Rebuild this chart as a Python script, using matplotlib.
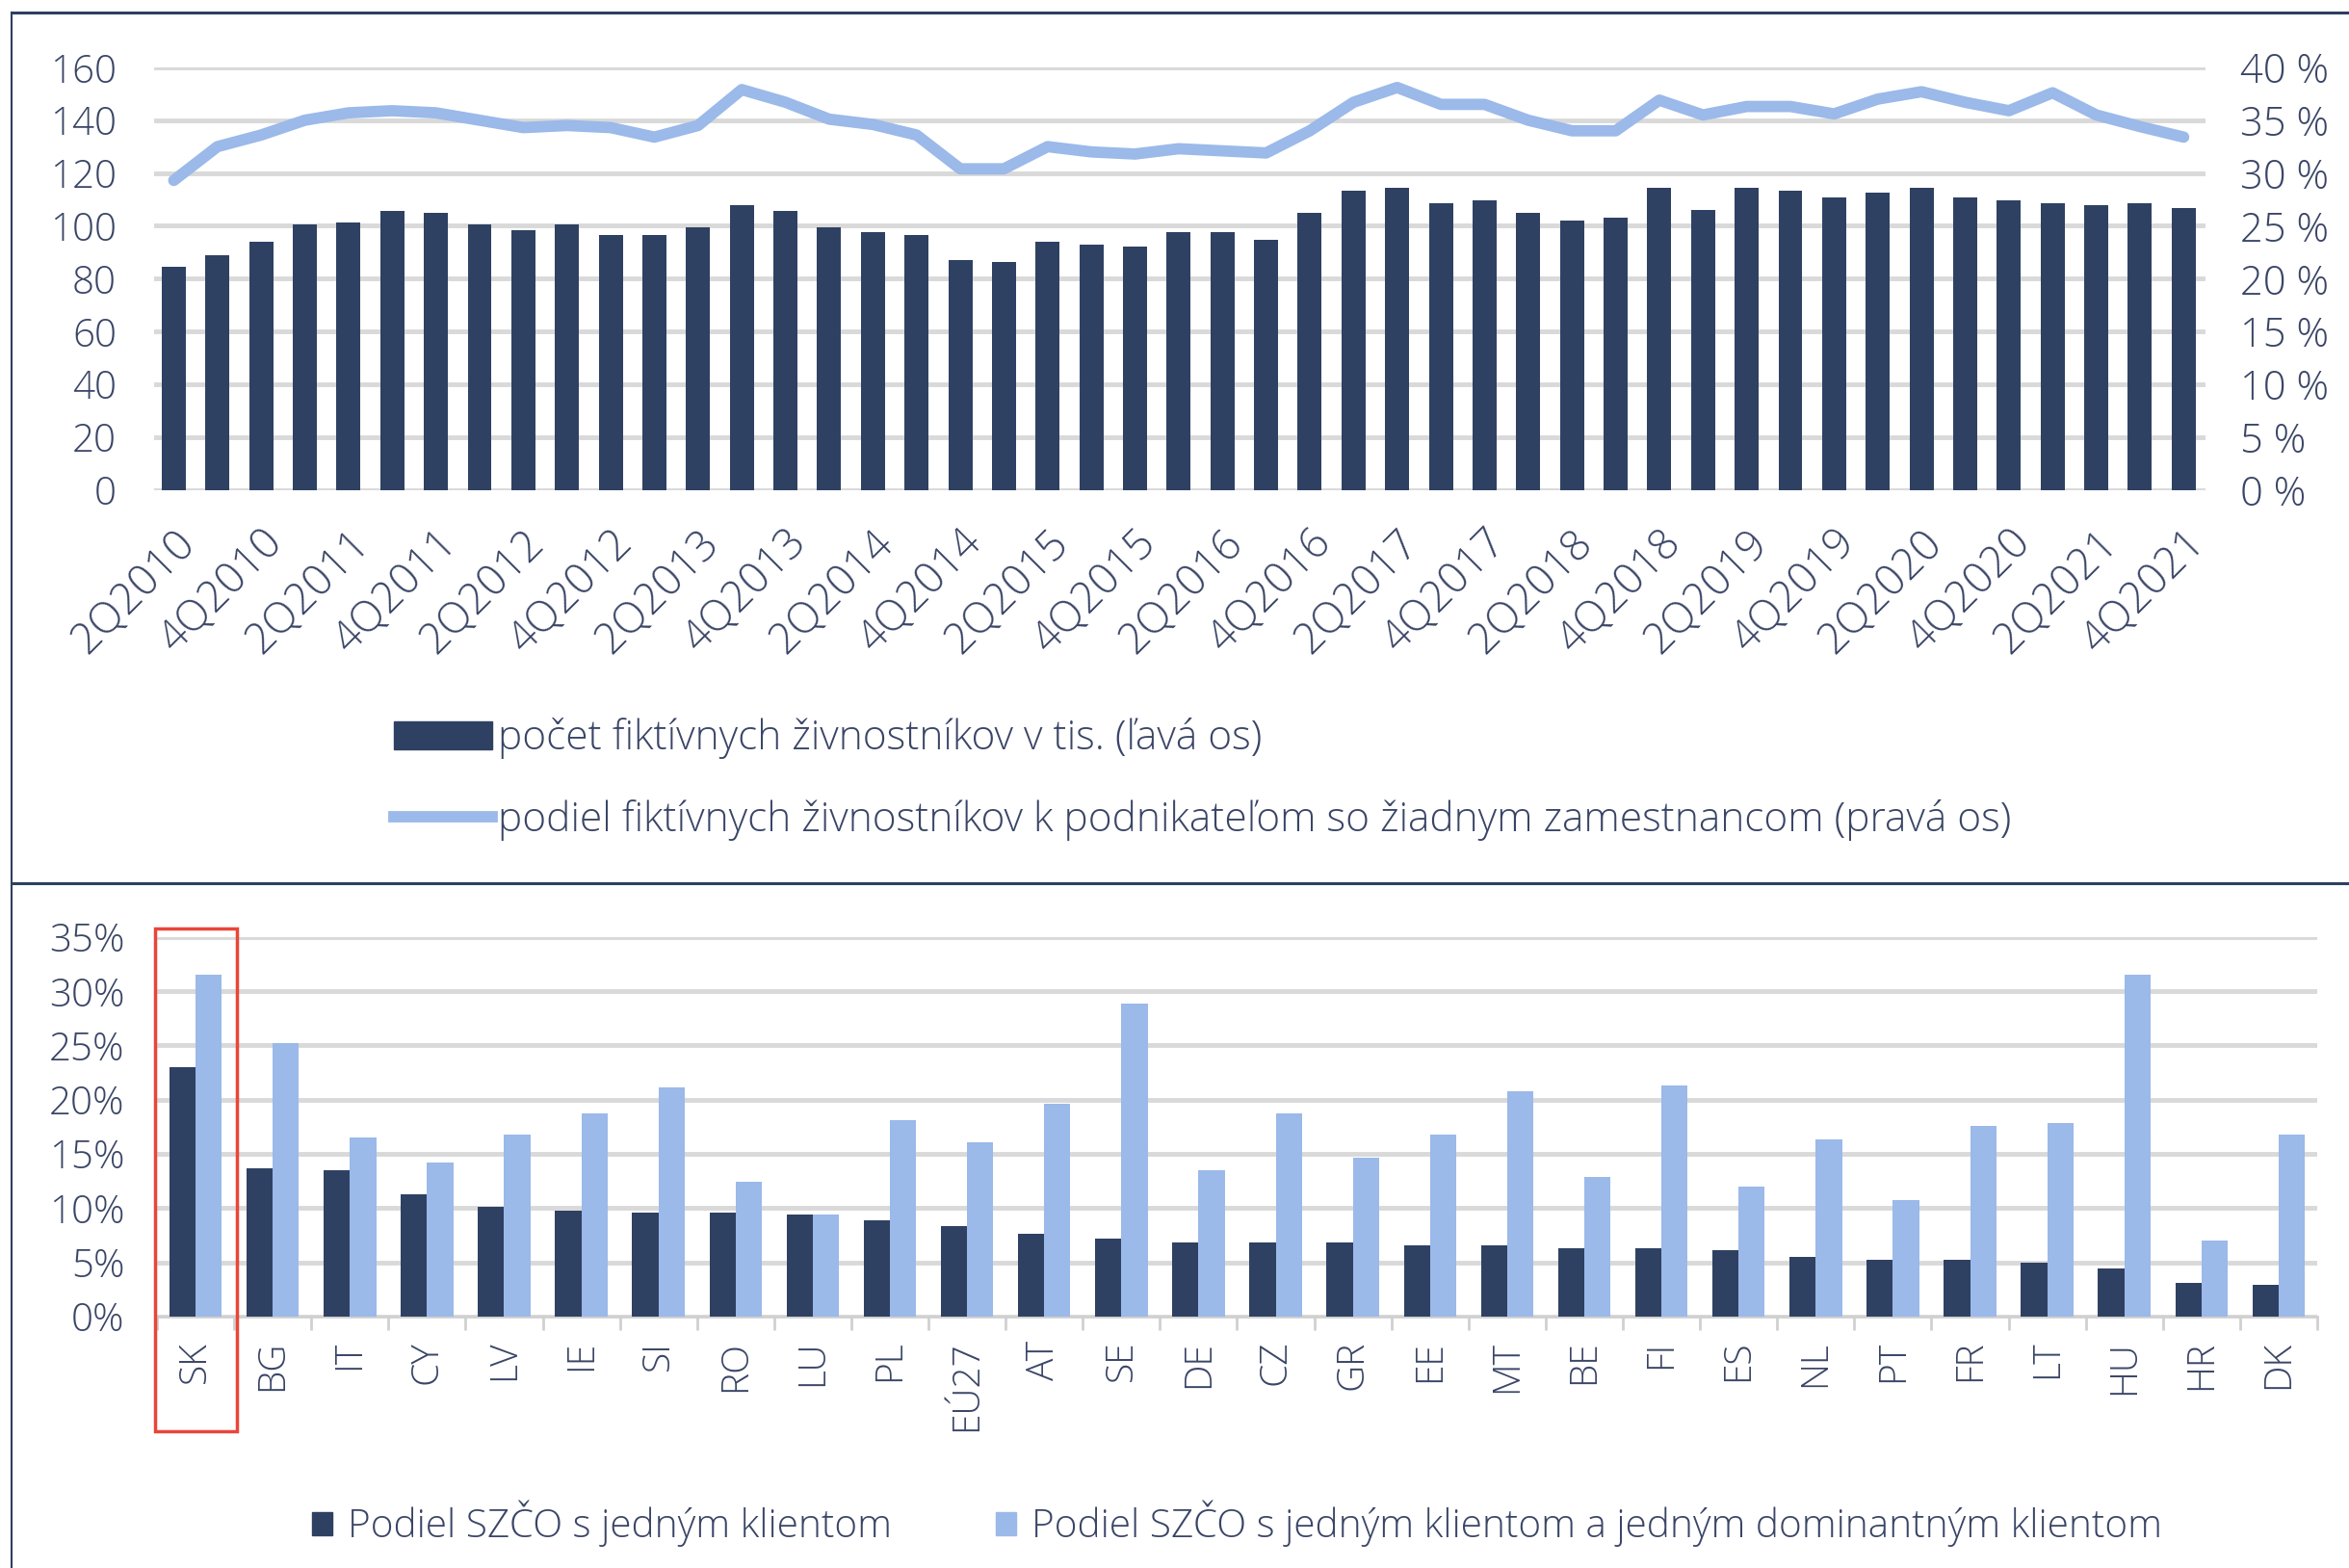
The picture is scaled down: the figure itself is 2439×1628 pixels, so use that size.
import matplotlib
matplotlib.use("Agg")
import matplotlib.pyplot as plt
from matplotlib.lines import Line2D
from matplotlib.patches import Patch, Rectangle
from matplotlib.ticker import FuncFormatter

plt.rcParams['font.family'] = ['Open Sans', 'DejaVu Sans']
plt.rcParams['font.weight'] = 'light'

# ---------------- data ----------------
quarters = []
for yr in range(2010, 2022):
    for q in range(1, 5):
        if yr == 2010 and q == 1:
            continue
        quarters.append(f"{q}Q{yr}")

fict_count = [84.4, 89.0, 93.8, 100.4, 101.2, 105.8, 105.0, 100.4, 98.4, 100.4,
              96.5, 96.5, 99.5, 107.7, 105.8, 99.5, 97.5, 96.5, 87.0, 86.3,
              93.8, 92.8, 92.0, 97.5, 97.5, 94.7, 105.0, 113.3, 114.3, 108.7,
              109.6, 105.0, 102.1, 103.0, 114.3, 105.9, 114.3, 113.3, 110.6, 112.5,
              114.3, 110.6, 109.6, 108.7, 107.8, 108.7, 106.7]
fict_share = [29.3, 32.5, 33.6, 35.0, 35.7, 35.9, 35.7, 35.0, 34.3, 34.5,
              34.3, 33.4, 34.5, 37.9, 36.7, 35.1, 34.6, 33.6, 30.4, 30.4,
              32.5, 32.0, 31.8, 32.3, 32.1, 31.9, 34.0, 36.7, 38.1, 36.5,
              36.5, 35.0, 34.0, 34.0, 36.9, 35.5, 36.3, 36.3, 35.6, 37.0,
              37.7, 36.7, 35.9, 37.6, 35.5, 34.4, 33.4]

countries = ["SK", "BG", "IT", "CY", "LV", "IE", "SI", "RO", "LU", "PL", "EÚ27", "AT", "SE",
             "DE", "CZ", "GR", "EE", "MT", "BE", "FI", "ES", "NL", "PT", "FR", "LT", "HU", "HR", "DK"]
one_client = [23.0, 13.7, 13.5, 11.3, 10.1, 9.8, 9.6, 9.6, 9.4, 8.9, 8.3, 7.6, 7.2,
              6.8, 6.8, 6.8, 6.6, 6.6, 6.3, 6.3, 6.1, 5.5, 5.2, 5.2, 5.0, 4.4, 3.1, 2.9]
one_dom_client = [31.5, 25.2, 16.5, 14.2, 16.8, 18.7, 21.1, 12.4, 9.4, 18.1, 16.1, 19.6, 28.9,
                  13.5, 18.7, 14.6, 16.8, 20.8, 12.9, 21.3, 12.0, 16.3, 10.7, 17.6, 17.8, 31.5, 7.0, 16.8]

left_ticks = [0, 20, 40, 60, 80, 100, 120, 140, 160]
right_ticks = [0, 5, 10, 15, 20, 25, 30, 35, 40]
bottom_ticks = [0, 5, 10, 15, 20, 25, 30, 35]

label_top_bar = "počet fiktívnych živnostníkov v tis. (ľavá os)"
label_top_line = "podiel fiktívnych živnostníkov k podnikateľom so žiadnym zamestnancom (pravá os)"
label_bot_1 = "Podiel SZČO s jedným klientom"
label_bot_2 = "Podiel SZČO s jedným klientom a jedným dominantným klientom"

# ---------------- style ----------------
DARK = "#2f4163"
LIGHT = "#9bb9e9"
TXT = "#3a4566"
GRID = "#d9d9d9"
FRAME = "#2e4060"
FS = 29
LW = 8.5

W, H = 2439, 1628
fig = plt.figure(figsize=(W / 100, H / 100), dpi=100)

# frame lines
fig.add_artist(Line2D([12 / W, 1], [1 - 13 / H, 1 - 13 / H], color=FRAME, lw=2.2))
fig.add_artist(Line2D([12 / W, 12 / W], [0, 1 - 13 / H], color=FRAME, lw=1.5))
fig.add_artist(Line2D([12 / W, 1], [1 - 917 / H, 1 - 917 / H], color=FRAME, lw=2.2))

# ---------------- top chart ----------------
x0, x1 = 160 / W, 2290 / W
y0, y1 = 1 - 508.6 / H, 1 - 70 / H
ax = fig.add_axes([x0, y0, x1 - x0, y1 - y0])
xs = list(range(len(quarters)))
ax.bar(xs, fict_count, width=0.55, color=DARK, zorder=3)
ax.set_xlim(-0.45, len(quarters) - 0.5)
ax.set_ylim(0, 160)
ax.set_yticks(left_ticks)
ax.yaxis.grid(True, color=GRID, lw=3.5, zorder=0)
ax.set_axisbelow(True)
for s in ax.spines.values():
    s.set_visible(False)
ax.tick_params(axis='y', length=0, labelsize=FS, labelcolor=TXT, pad=28)
ax.set_xticks(xs[::2])
ax.set_xticklabels(quarters[::2], rotation=45, ha='right', rotation_mode='anchor',
                   fontsize=32, color=TXT)
ax.tick_params(axis='x', length=0, pad=24)

ax2 = ax.twinx()
ax2.plot(xs, fict_share, color=LIGHT, lw=LW, solid_capstyle='round', solid_joinstyle='round', zorder=4)
ax2.set_ylim(0, 40)
ax2.set_yticks(right_ticks)
ax2.yaxis.set_major_formatter(FuncFormatter(lambda v, p: f"{int(v)} %"))
for s in ax2.spines.values():
    s.set_visible(False)
ax2.tick_params(axis='y', length=0, labelsize=30, labelcolor=TXT, pad=26)

top_handles = [Patch(facecolor=DARK, edgecolor=DARK),
               Line2D([0], [0], color=LIGHT, lw=LW)]
fig.legend(top_handles, [label_top_bar, label_top_line], loc='upper left',
           bbox_to_anchor=(371 / W, 1 - 707 / H), frameon=False, fontsize=30.5,
           labelcolor=TXT, handlelength=2.4, handleheight=0.68, handletextpad=0.15,
           labelspacing=0.98)

# ---------------- bottom chart ----------------
bx0, bx1 = 163 / W, 2406 / W
by0, by1 = 1 - 1366.8 / H, 1 - 972.9 / H
bx = fig.add_axes([bx0, by0, bx1 - bx0, by1 - by0])
cx = list(range(len(countries)))
bw = 0.34
bx.bar([c - bw / 2 for c in cx], one_client, width=bw, color=DARK, zorder=3)
bx.bar([c + bw / 2 for c in cx], one_dom_client, width=bw, color=LIGHT, zorder=3)
bx.set_xlim(-0.5, len(countries) - 0.5)
bx.set_ylim(0, 35)
bx.set_yticks(bottom_ticks)
bx.yaxis.set_major_formatter(FuncFormatter(lambda v, p: f"{int(v)}%"))
bx.yaxis.grid(True, color=GRID, lw=3.5, zorder=0)
bx.set_axisbelow(True)
for s in bx.spines.values():
    s.set_visible(False)
bx.spines['bottom'].set_visible(True)
bx.spines['bottom'].set_color("#d0d0d0")
bx.spines['bottom'].set_linewidth(2)
bx.tick_params(axis='y', length=0, labelsize=FS, labelcolor=TXT, pad=24)
bx.set_xticks([c - 0.5 for c in cx] + [len(countries) - 0.5], minor=False)
bx.set_xticklabels([])
bx.tick_params(axis='x', which='major', length=10, width=2, color="#d0d0d0")
bx.set_xticks(cx, minor=True)
bx.set_xticklabels(countries, minor=True, rotation=90, fontsize=28, color=TXT)
bx.tick_params(axis='x', which='minor', length=0, pad=18)

# red highlight box around SK
fig.add_artist(Rectangle((161 / W, 1 - 1486 / H), (246 - 161) / W, (1486 - 964) / H,
                         fill=False, edgecolor="#e8463a", lw=2.5))

bot_handles = [Patch(facecolor=DARK, edgecolor=DARK), Patch(facecolor=LIGHT, edgecolor=LIGHT)]
fig.legend(bot_handles, [label_bot_1, label_bot_2], loc='center left',
           bbox_to_anchor=(287 / W, 1 - 1582 / H), ncol=2, frameon=False, fontsize=29.2,
           labelcolor=TXT, handlelength=0.53, handleheight=0.53, handletextpad=0.4,
           columnspacing=2.65)

fig.savefig("out.png", dpi=100, facecolor="white")
